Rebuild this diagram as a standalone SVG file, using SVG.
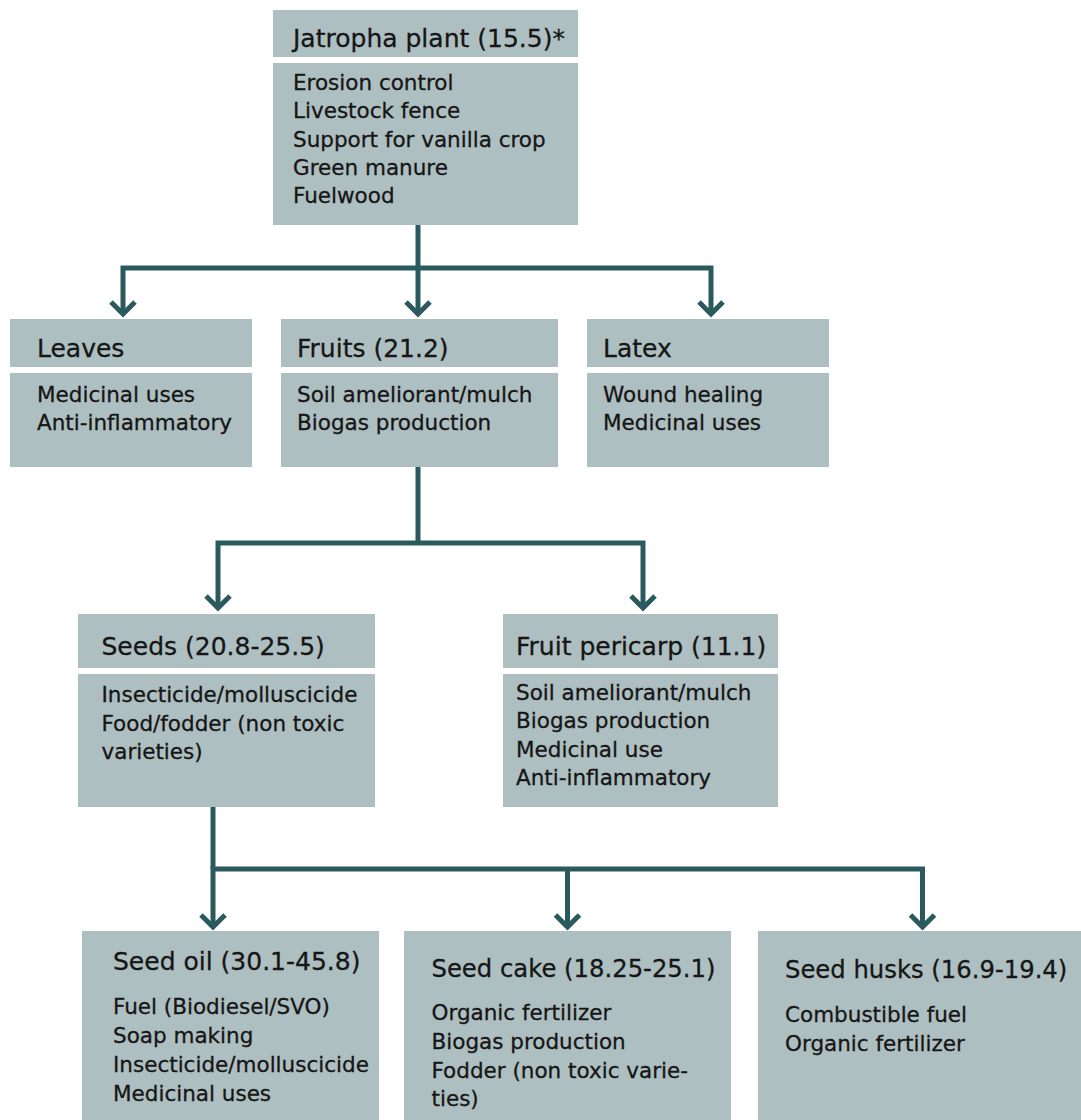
<svg xmlns="http://www.w3.org/2000/svg" width="1081" height="1120" viewBox="0 0 1081 1120">
<defs>
<style>
.box{fill:#aebfc1}
.t{font-family:"DejaVu Sans","Liberation Sans",sans-serif;font-size:25px;fill:#161616;stroke:#161616;stroke-width:0.3}
.t2{font-size:24.3px}
.b{font-family:"DejaVu Sans","Liberation Sans",sans-serif;font-size:21.5px;fill:#161616;stroke:#161616;stroke-width:0.3}
.c{fill:none;stroke:#2b5a5e;stroke-width:5;stroke-linejoin:miter;stroke-linecap:butt}
</style>
</defs>
<rect width="1081" height="1120" fill="#ffffff"/>
<g id="connectors">
<path class="c" d="M418,225 V314"/>
<path class="c" d="M123,314 V268 H711 V314"/>
<polyline class="c" points="111,302 123,314 135,302"/>
<polyline class="c" points="406,302 418,314 430,302"/>
<polyline class="c" points="699,302 711,314 723,302"/>
<path class="c" d="M418,467 V543"/>
<path class="c" d="M218,608 V543 H643 V608"/>
<polyline class="c" points="206,596 218,608 230,596"/>
<polyline class="c" points="631,596 643,608 655,596"/>
<path class="c" d="M213,807 V869"/>
<path class="c" d="M213,927 V869 H922.5 V927"/>
<path class="c" d="M567.5,869 V927"/>
<polyline class="c" points="201,915 213,927 225,915"/>
<polyline class="c" points="555.5,915 567.5,927 579.5,915"/>
<polyline class="c" points="910.5,915 922.5,927 934.5,915"/>
</g>
<g id="jatropha">
<rect class="box" x="273" y="10" width="305" height="47"/>
<rect class="box" x="273" y="63" width="305" height="162"/>
<text class="t" x="293" y="47">Jatropha plant (15.5)*</text>
<text class="b" x="293" y="90">Erosion control</text>
<text class="b" x="293" y="118">Livestock fence</text>
<text class="b" x="293" y="147">Support for vanilla crop</text>
<text class="b" x="293" y="175">Green manure</text>
<text class="b" x="293" y="203">Fuelwood</text>
</g>
<g id="leaves">
<rect class="box" x="10" y="319" width="242" height="48"/>
<rect class="box" x="10" y="373" width="242" height="94"/>
<text class="t" x="37" y="357">Leaves</text>
<text class="b" x="37" y="401.5">Medicinal uses</text>
<text class="b" x="37" y="430">Anti-inflammatory</text>
</g>
<g id="fruits">
<rect class="box" x="281" y="319" width="277" height="48"/>
<rect class="box" x="281" y="373" width="277" height="94"/>
<text class="t" x="297" y="357">Fruits (21.2)</text>
<text class="b" x="297" y="401.5">Soil ameliorant/mulch</text>
<text class="b" x="297" y="430">Biogas production</text>
</g>
<g id="latex">
<rect class="box" x="587" y="319" width="242" height="48"/>
<rect class="box" x="587" y="373" width="242" height="94"/>
<text class="t" x="603" y="357">Latex</text>
<text class="b" x="603" y="401.5">Wound healing</text>
<text class="b" x="603" y="430">Medicinal uses</text>
</g>
<g id="seeds">
<rect class="box" x="78" y="614" width="297" height="54"/>
<rect class="box" x="78" y="674" width="297" height="133"/>
<text class="t" x="101.5" y="655">Seeds (20.8-25.5)</text>
<text class="b" x="101.5" y="702">Insecticide/molluscicide</text>
<text class="b" x="101.5" y="730.5">Food/fodder (non toxic</text>
<text class="b" x="101.5" y="758.5">varieties)</text>
</g>
<g id="pericarp">
<rect class="box" x="503" y="614" width="275" height="54"/>
<rect class="box" x="503" y="674" width="275" height="133"/>
<text class="t" x="516" y="655">Fruit pericarp (11.1)</text>
<text class="b" x="516" y="699.5">Soil ameliorant/mulch</text>
<text class="b" x="516" y="728">Biogas production</text>
<text class="b" x="516" y="757">Medicinal use</text>
<text class="b" x="516" y="785">Anti-inflammatory</text>
</g>
<g id="seed-oil">
<rect class="box" x="82" y="931" width="297" height="189"/>
<text class="t" x="113" y="970">Seed oil (30.1-45.8)</text>
<text class="b" x="113" y="1014">Fuel (Biodiesel/SVO)</text>
<text class="b" x="113" y="1043">Soap making</text>
<text class="b" x="113" y="1072">Insecticide/molluscicide</text>
<text class="b" x="113" y="1101">Medicinal uses</text>
</g>
<g id="seed-cake">
<rect class="box" x="404" y="931" width="327" height="189"/>
<text class="t t2" x="431.5" y="976.5">Seed cake (18.25-25.1)</text>
<text class="b" x="431.5" y="1020">Organic fertilizer</text>
<text class="b" x="431.5" y="1049">Biogas production</text>
<text class="b" x="431.5" y="1078">Fodder (non toxic varie-</text>
<text class="b" x="431.5" y="1106">ties)</text>
</g>
<g id="seed-husks">
<rect class="box" x="758" y="931" width="323" height="189"/>
<text class="t t2" x="785" y="978">Seed husks (16.9-19.4)</text>
<text class="b" x="785" y="1021.5">Combustible fuel</text>
<text class="b" x="785" y="1050.5">Organic fertilizer</text>
</g>
</svg>
